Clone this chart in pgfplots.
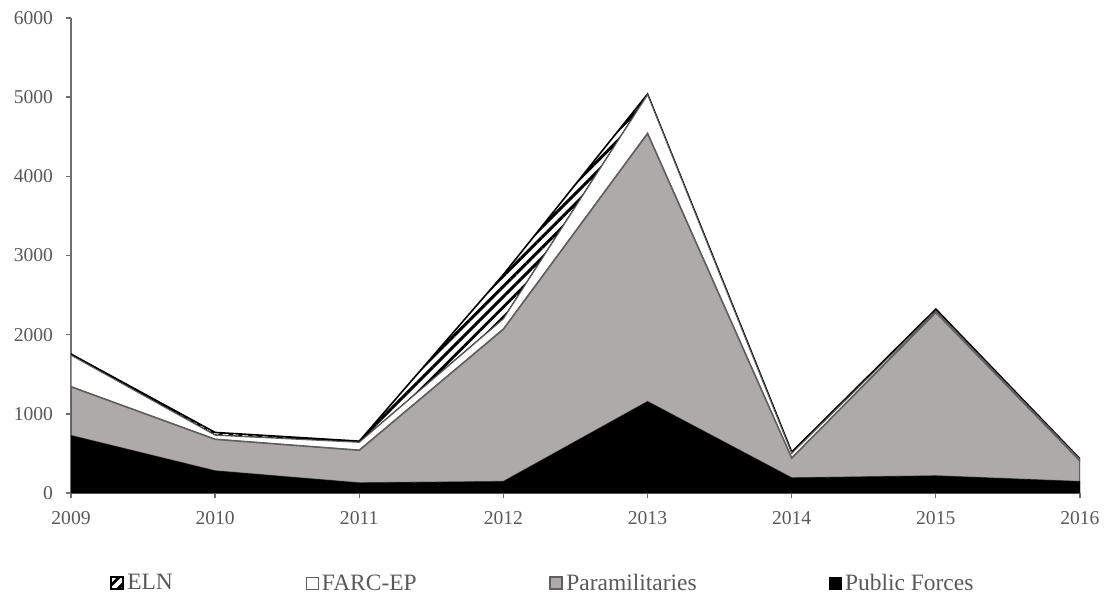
\documentclass[border=0pt]{standalone}
\usepackage{fontspec}
\setmainfont{Liberation Serif}
\usepackage{pgfplots}
\pgfplotsset{compat=1.18}
\usetikzlibrary{patterns.meta}

\definecolor{txtgray}{HTML}{595959}
\definecolor{axgray}{HTML}{6E6E6E}
\definecolor{paragray}{HTML}{AEAAAA}
\definecolor{paraedge}{HTML}{5F5F5F}

\begin{document}
\begin{tikzpicture}
\useasboundingbox (-53.25pt,-82.5pt) rectangle (778.5pt,369.75pt);
\begin{axis}[
    at={(0,0)}, anchor=south west,
    scale only axis,
    width=756.75pt, height=356.25pt,
    xmin=2009, xmax=2016,
    ymin=0, ymax=6000,
    xtick={2009,...,2016},
    ytick={0,1000,...,6000},
    stack plots=y,
    axis x line*=bottom,
    axis y line*=left,
    axis line style={axgray, line width=1pt, -},
    tick style={axgray, line width=1pt},
    tick align=outside,
    major tick length=4pt,
    xtick pos=bottom, ytick pos=left,
    /pgf/number format/1000 sep={},
    /pgf/number format/assume math mode=true,
    tick label style={font=\fontsize{14.7}{16}\selectfont, text=txtgray},
    xticklabel style={yshift=-6pt},
    yticklabel style={xshift=-6pt},
    reverse legend,
    legend columns=4,
    legend style={
        at={(0.468,-0.19)}, anchor=center,
        draw=none, fill=none,
        font=\fontsize{17.6}{20}\selectfont, text=txtgray,
        /tikz/every even column/.append style={column sep=97.5pt},
        /tikz/every odd column/.append style={column sep=0.5pt},
    },
    legend image code/.code={
        \draw[#1] (0pt,-4.5pt) rectangle (9pt,4.5pt);
    },
]
% Public Forces
\addplot[fill=black, draw=black, line width=0.3pt] coordinates {
    (2009,724) (2010,278) (2011,126) (2012,143) (2013,1153) (2014,189) (2015,215) (2016,143)
} \closedcycle;
% Paramilitaries
\addplot[fill=paragray, draw=paraedge, line width=1.2pt] coordinates {
    (2009,618) (2010,400) (2011,414) (2012,1927) (2013,3388) (2014,253) (2015,2065) (2016,262)
} \closedcycle;
% FARC-EP
\addplot[fill=white, draw=paraedge, line width=0.8pt] coordinates {
    (2009,398) (2010,52) (2011,100) (2012,130) (2013,489) (2014,58) (2015,20) (2016,15)
} \closedcycle;
% ELN
\addplot[pattern={Lines[angle=45, distance=5.5pt, line width=2.2pt]}, pattern color=black, draw=black, line width=1.2pt] coordinates {
    (2009,15) (2010,35) (2011,15) (2012,560) (2013,10) (2014,18) (2015,23) (2016,10)
} \closedcycle;
\legend{Public Forces, Paramilitaries, FARC-EP, ELN}
\end{axis}
\end{tikzpicture}
\end{document}
